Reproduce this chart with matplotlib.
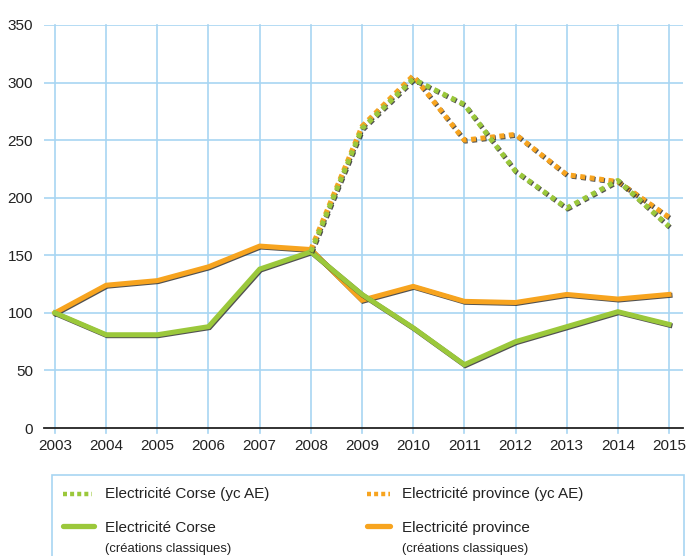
import matplotlib
matplotlib.use("Agg")
import matplotlib.pyplot as plt
from matplotlib.lines import Line2D
import matplotlib.patheffects as pe

plt.rcParams['font.family'] = ['Liberation Sans', 'DejaVu Sans']

years = [2003, 2004, 2005, 2006, 2007, 2008, 2009, 2010, 2011, 2012, 2013, 2014, 2015]
corse_classique = [100, 81, 81, 88, 138, 153, 116, 87, 55, 75, 88, 101, 90]
province_classique = [100, 124, 128, 140, 158, 155, 111, 123, 110, 109, 116, 112, 116]
years_ae = [2008, 2009, 2010, 2011, 2012, 2013, 2014, 2015]
corse_ae = [153, 260, 303, 281, 223, 191, 215, 175]
province_ae = [155, 262, 306, 250, 255, 220, 214, 183]
yticks = [0, 50, 100, 150, 200, 250, 300, 350]

labels = ["Electricité Corse (yc AE)", "Electricité province (yc AE)",
          "Electricité Corse", "Electricité province"]
sublabel = "(créations classiques)"

GREEN = "#9BC83B"
ORANGE = "#F7A41F"
GRID = "#A8D5F2"

fig = plt.figure(figsize=(7.0, 5.56), dpi=100)
ax = fig.add_axes([44/700, 1-428/556, (683-44)/700, (428-25)/556])

shadow = [pe.SimpleLineShadow(offset=(0.7, -0.7), shadow_color="#333333", alpha=0.85), pe.Normal()]

lw = 3.6
ax.plot(years, province_classique, color=ORANGE, lw=lw, solid_joinstyle='miter',
        path_effects=shadow, zorder=4)
ax.plot(years, corse_classique, color=GREEN, lw=lw, solid_joinstyle='miter',
        path_effects=shadow, zorder=5)
ax.plot(years_ae, province_ae, color=ORANGE, lw=lw, linestyle=(0, (1, 0.9)),
        dash_capstyle='butt', path_effects=shadow, zorder=6)
ax.plot(years_ae, corse_ae, color=GREEN, lw=lw, linestyle=(0, (1, 0.9)),
        dash_capstyle='butt', path_effects=shadow, zorder=7)

ax.set_xlim(2003 - 11/51.25, 2015 + 14/51.25)
ax.set_ylim(0, 350)
ax.set_xticks(years)
ax.set_yticks(yticks)
for y in yticks[1:]:
    ax.axhline(y, color=GRID, lw=1.2, zorder=1)
for x in years:
    ax.plot([x, x], [-4.5, 350], color=GRID, lw=1.2, zorder=1, clip_on=False)
for s in ['top', 'right', 'left']:
    ax.spines[s].set_visible(False)
ax.spines['bottom'].set_color('#222222')
ax.spines['bottom'].set_linewidth(1.3)
ax.spines['bottom'].set_zorder(3)
ax.tick_params(axis='both', length=0, labelsize=11, colors='#222222')
ax.tick_params(axis='x', pad=8)
ax.tick_params(axis='y', pad=8)

# legend box
fx = lambda px: px / 700
fy = lambda py: 1 - py / 556
box = plt.Rectangle((fx(52), fy(560)), fx(684) - fx(52), fy(475) - fy(560),
                    transform=fig.transFigure, fill=False, edgecolor=GRID, lw=1.2)
fig.add_artist(box)

def handle(x0, x1, y, color, dotted):
    ln = Line2D([fx(x0), fx(x1)], [fy(y), fy(y)], transform=fig.transFigure,
                color=color, lw=3.2 if dotted else 3.8,
                linestyle=(0, (0.9, 0.7)) if dotted else '-',
                dash_capstyle='butt', solid_capstyle='round')
    fig.add_artist(ln)

TS = 11
SS = 9.4
handle(63, 92, 494, GREEN, True)
fig.text(fx(105), fy(494), labels[0], fontsize=TS, va='center', color='#222222')
handle(367, 390, 494, ORANGE, True)
fig.text(fx(402), fy(494), labels[1], fontsize=TS, va='center', color='#222222')
handle(63, 94, 526, GREEN, False)
fig.text(fx(105), fy(528), labels[2], fontsize=TS, va='center', color='#222222')
fig.text(fx(105), fy(549), sublabel, fontsize=SS, va='center', color='#222222')
handle(367, 390, 526, ORANGE, False)
fig.text(fx(402), fy(528), labels[3], fontsize=TS, va='center', color='#222222')
fig.text(fx(402), fy(549), sublabel, fontsize=SS, va='center', color='#222222')

fig.savefig("out.png", dpi=100)
